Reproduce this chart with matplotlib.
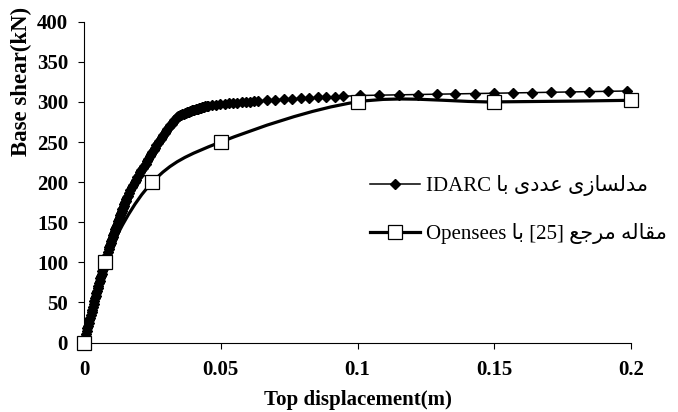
#!/usr/bin/env python3
"""Pushover curve: IDARC model vs. reference paper (Opensees)."""

import matplotlib
matplotlib.use("Agg")
import matplotlib.pyplot as plt
from matplotlib.lines import Line2D
from matplotlib.path import Path
from matplotlib.patches import PathPatch

# IDARC numerical model (dense analysis steps)
IDARC_X = [
    0.0, 0.00025, 0.0005, 0.00075, 0.001, 0.00125, 0.0015, 0.00175,
    0.002, 0.00225, 0.0025, 0.00275, 0.003, 0.00325, 0.0035, 0.00375,
    0.004, 0.00425, 0.0045, 0.00475, 0.005, 0.00525, 0.0055, 0.00575,
    0.006, 0.00625, 0.0065, 0.00675, 0.007, 0.00725, 0.0075, 0.00775,
    0.008, 0.00825, 0.0085, 0.00875, 0.009, 0.00925, 0.0095, 0.00975,
    0.010, 0.01025, 0.0105, 0.01075, 0.011, 0.01125, 0.0115, 0.01175,
    0.012, 0.01225, 0.0125, 0.01275, 0.013, 0.01325, 0.0135, 0.01375,
    0.014, 0.01425, 0.0145, 0.01475, 0.015, 0.01525, 0.0155, 0.01575,
    0.016, 0.0165, 0.017, 0.0175, 0.018, 0.0185, 0.019, 0.0195,
    0.020, 0.0205, 0.021, 0.0215, 0.022, 0.0225, 0.023, 0.0235, 0.024, 0.0245,
    0.025, 0.0255, 0.026, 0.0265, 0.027, 0.0275, 0.028, 0.0285, 0.029, 0.0295,
    0.030, 0.0305, 0.031, 0.0315, 0.032, 0.0325, 0.033, 0.0335, 0.034,
    0.0344, 0.0348, 0.0352, 0.0356, 0.0360, 0.0364, 0.0368, 0.0372, 0.0376,
    0.0380, 0.0384, 0.0388, 0.0392, 0.0396, 0.0400, 0.0404, 0.0408, 0.0412,
    0.0416, 0.0420, 0.0424, 0.0428, 0.0432, 0.0436, 0.0440, 0.0444, 0.0448,
    0.0452,
    0.0467, 0.0483, 0.0498, 0.0514, 0.0529, 0.0545, 0.0560, 0.0576, 0.0591,
    0.0607, 0.0622, 0.0638,
    0.0669, 0.0700, 0.0731, 0.0762, 0.0793, 0.0824, 0.0855, 0.0886, 0.0917,
    0.0948,
    0.1010, 0.1079, 0.1150, 0.1220, 0.1289, 0.1358, 0.1429, 0.1499, 0.1567,
    0.1638, 0.1707, 0.1777, 0.1846, 0.1915, 0.1985,
]
IDARC_Y = [
    0, 3.5, 7, 10.5, 14, 17.5, 21, 24.5,
    28, 31, 34.5, 37.5, 41, 44.5, 48, 51.5,
    55, 58, 61.5, 64.5, 68, 71, 74, 77,
    80, 83, 86, 89, 92, 95, 97.5, 100,
    103, 106, 109.5, 113, 116, 118.5, 121, 123.5,
    126, 129, 131.5, 134.5, 137, 139.5, 142, 144.5,
    147, 149.5, 152, 154.5, 157, 159, 161.5, 164,
    166, 168, 170.5, 173, 175, 177, 179, 181,
    183, 186.5, 190, 193.5, 197, 200, 203, 206,
    209, 212, 215, 217.5, 220, 223, 226, 229, 232, 235,
    238, 240.5, 243, 246, 249, 251.5, 254, 256.5, 259, 261.5,
    264, 266.5, 269, 271, 273, 275, 277, 279, 281,
    282.0, 282.7, 283.3, 283.9, 284.5, 285.1, 285.7, 286.3, 286.9,
    287.5, 288.0, 288.5, 289.0, 289.5, 290.0, 290.5, 290.9, 291.3,
    291.7, 292.1, 292.5, 292.9, 293.3, 293.7, 294.1, 294.5, 294.9,
    295.3,
    296.0, 296.6, 297.2, 297.7, 298.2, 298.7, 299.2, 299.6, 300.0,
    300.4, 300.8, 301.3,
    302.0, 302.7, 303.3, 303.9, 304.5, 305.0, 305.5, 306.0, 306.5,
    307.0,
    308.0, 308.4, 308.8, 309.2, 309.6, 310.0, 310.4, 310.8, 311.2,
    311.6, 312.0, 312.4, 312.8, 313.2, 313.6,
]

# Reference paper [25] with Opensees
OPENSEES_X = [0.0, 0.0075, 0.025, 0.05, 0.1, 0.15, 0.2]
OPENSEES_Y = [0, 100, 200, 250, 300, 300, 302]

X_TICKS = [0, 0.05, 0.1, 0.15, 0.2]
X_TICK_LABELS = ["0", "0.05", "0.1", "0.15", "0.2"]
Y_TICKS = [0, 50, 100, 150, 200, 250, 300, 350, 400]

LABEL_IDARC = "مدلسازی عددی با IDARC"
LABEL_OPENSEES = "مقاله مرجع [25] با Opensees"

# contextual forms: isolated, final, initial, medial
FORMS = {
    "ا": ("\uFE8D", "\uFE8E", None, None),
    "ب": ("\uFE8F", "\uFE90", "\uFE91", "\uFE92"),
    "ج": ("\uFE9D", "\uFE9E", "\uFE9F", "\uFEA0"),
    "د": ("\uFEA9", "\uFEAA", None, None),
    "ر": ("\uFEAD", "\uFEAE", None, None),
    "ز": ("\uFEAF", "\uFEB0", None, None),
    "س": ("\uFEB1", "\uFEB2", "\uFEB3", "\uFEB4"),
    "ع": ("\uFEC9", "\uFECA", "\uFECB", "\uFECC"),
    "ق": ("\uFED5", "\uFED6", "\uFED7", "\uFED8"),
    "ل": ("\uFEDD", "\uFEDE", "\uFEDF", "\uFEE0"),
    "م": ("\uFEE1", "\uFEE2", "\uFEE3", "\uFEE4"),
    "ه": ("\uFEE9", "\uFEEA", "\uFEEB", "\uFEEC"),
    "ی": ("\uFBFC", "\uFBFD", "\uFBFE", "\uFBFF"),
}


def shape_fa(text):
    """Join Persian letters and lay the line out right-to-left."""
    out = []
    for word in text.split(" "):
        if not any(ch in FORMS for ch in word):
            out.append(word)
            continue
        chars = []
        for i, ch in enumerate(word):
            f = FORMS.get(ch)
            if f is None:
                chars.append(ch)
                continue
            prev = word[i - 1] if i > 0 else ""
            nxt = word[i + 1] if i + 1 < len(word) else ""
            jp = prev in FORMS and FORMS[prev][2] is not None
            jn = f[2] is not None and nxt in FORMS
            chars.append(f[3] if jp and jn else f[1] if jp else f[2] if jn else f[0])
        out.append("".join(reversed(chars)))
    return " ".join(reversed(out))


def smooth_path(xs, ys):
    """Excel-like smoothed line as cubic Bezier segments."""
    pts = list(zip(xs, ys))
    verts = [pts[0]]
    codes = [Path.MOVETO]
    n = len(pts)
    for i in range(n - 1):
        p0 = pts[i - 1] if i > 0 else pts[i]
        p1, p2 = pts[i], pts[i + 1]
        p3 = pts[i + 2] if i + 2 < n else pts[i + 1]
        c1 = (p1[0] + (p2[0] - p0[0]) / 6, p1[1] + (p2[1] - p0[1]) / 6)
        c2 = (p2[0] - (p3[0] - p1[0]) / 6, p2[1] - (p3[1] - p1[1]) / 6)
        verts += [c1, c2, p2]
        codes += [Path.CURVE4] * 3
    return Path(verts, codes)


def main():
    serif = ["Liberation Serif", "DejaVu Sans"]
    plt.rcParams["font.family"] = serif

    fig = plt.figure(figsize=(6.78, 4.12), dpi=100)
    ax = fig.add_axes([84 / 678, 1 - 342.5 / 412, 547 / 678, 320.8 / 412])

    (idarc,) = ax.plot(IDARC_X, IDARC_Y, color="black", lw=1.1, marker="D",
                       ms=5.0, clip_on=False, zorder=3)
    ax.add_patch(PathPatch(smooth_path(OPENSEES_X, OPENSEES_Y), fill=False,
                           edgecolor="black", lw=2.3, zorder=4))
    ax.plot(OPENSEES_X, OPENSEES_Y, linestyle="none", marker="s", ms=9.4,
            mfc="white", mec="black", mew=0.9, clip_on=False, zorder=5)

    ax.set_xlim(0, 0.2)
    ax.set_ylim(0, 400)
    ax.set_xticks(X_TICKS)
    ax.set_xticklabels(X_TICK_LABELS)
    ax.set_yticks(Y_TICKS)
    for spine in ("top", "right"):
        ax.spines[spine].set_visible(False)
    ax.tick_params(direction="out", length=4.5, width=0.8, labelsize=15)
    ax.tick_params(axis="x", pad=8)
    ax.tick_params(axis="y", pad=7)
    for lab in ax.get_xticklabels() + ax.get_yticklabels():
        lab.set_fontweight("bold")

    ax.set_xlabel("Top displacement(m)", fontsize=15, fontweight="bold", labelpad=7)
    fig.text(21.5 / 678, 1 - 81 / 412, "Base shear(kN)", rotation=90,
             ha="center", va="center", fontsize=16.5, fontweight="bold")

    open_handle = Line2D([], [], color="black", lw=2.3, marker="s", ms=9.4,
                         mfc="white", mec="black", mew=0.9)
    ax.legend([idarc, open_handle],
              [shape_fa(LABEL_IDARC), shape_fa(LABEL_OPENSEES)],
              loc="upper left", bbox_to_anchor=(370 / 678, 1 - 175 / 412),
              bbox_transform=fig.transFigure, frameon=False, numpoints=1,
              handlelength=2.4, handletextpad=0.3, labelspacing=1.3,
              borderpad=0, borderaxespad=0,
              prop={"family": serif, "size": 15})

    fig.savefig("out.png", dpi=100)
    plt.close(fig)


if __name__ == "__main__":
    main()
